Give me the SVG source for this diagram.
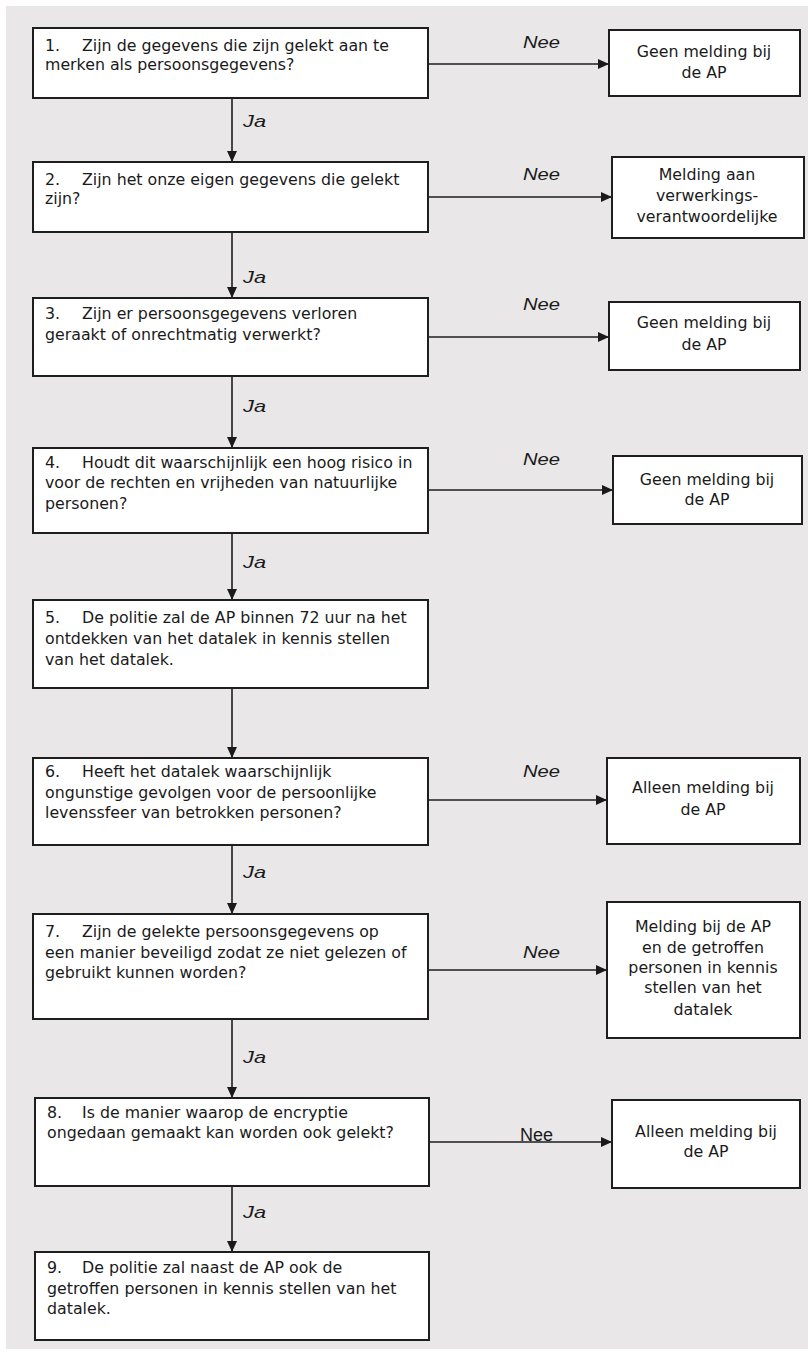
<svg xmlns="http://www.w3.org/2000/svg" width="808" height="1355" viewBox="0 0 808 1355">
  <defs>
    <marker id="arrow" markerUnits="userSpaceOnUse" markerWidth="12" markerHeight="10" refX="11" refY="5" orient="auto">
      <path d="M0,0 L11,5 L0,10 Z" fill="#1a1a1a"/>
    </marker>
    <style>
      .box { fill: #ffffff; stroke: #1e1e1e; stroke-width: 2; }
      .txt { font-family: "DejaVu Sans", "Liberation Sans", sans-serif; font-size: 15.8px; fill: #1a1a1a; }
      .ctr { text-anchor: middle; }
      .lbl { font-family: "Liberation Sans", "DejaVu Sans", sans-serif; font-style: italic; font-size: 17px; fill: #1a1a1a; }
      .lblup { font-family: "Liberation Sans", "DejaVu Sans", sans-serif; font-size: 18px; fill: #1a1a1a; }
      .link { stroke: #1e1e1e; stroke-width: 1.6; fill: none; marker-end: url(#arrow); }
    </style>
  </defs>

  <!-- page -->
  <rect x="0" y="0" width="808" height="1355" fill="#ffffff"/>
  <rect x="6" y="6" width="802" height="1343" fill="#e9e7e7"/>

  <!-- connectors -->
  <g id="connectors">
    <line class="link" x1="232" y1="98" x2="232" y2="162"/>
    <line class="link" x1="232" y1="232" x2="232" y2="298"/>
    <line class="link" x1="232" y1="376" x2="232" y2="448"/>
    <line class="link" x1="232" y1="533" x2="232" y2="600"/>
    <line class="link" x1="232" y1="688" x2="232" y2="758"/>
    <line class="link" x1="232" y1="845" x2="232" y2="914"/>
    <line class="link" x1="232" y1="1019" x2="232" y2="1098"/>
    <line class="link" x1="232" y1="1186" x2="232" y2="1252"/>

    <line class="link" x1="428" y1="64" x2="609" y2="64"/>
    <line class="link" x1="428" y1="197" x2="612" y2="197"/>
    <line class="link" x1="428" y1="337" x2="609" y2="337"/>
    <line class="link" x1="428" y1="490" x2="613" y2="490"/>
    <line class="link" x1="428" y1="800" x2="607" y2="800"/>
    <line class="link" x1="428" y1="970" x2="607" y2="970"/>
    <line class="link" x1="429" y1="1142" x2="612" y2="1142"/>

    <text class="lbl" x="243" y="127" textLength="23" lengthAdjust="spacingAndGlyphs">Ja</text>
    <text class="lbl" x="243" y="283" textLength="23" lengthAdjust="spacingAndGlyphs">Ja</text>
    <text class="lbl" x="243" y="412" textLength="23" lengthAdjust="spacingAndGlyphs">Ja</text>
    <text class="lbl" x="243" y="568" textLength="23" lengthAdjust="spacingAndGlyphs">Ja</text>
    <text class="lbl" x="243" y="878" textLength="23" lengthAdjust="spacingAndGlyphs">Ja</text>
    <text class="lbl" x="243" y="1063" textLength="23" lengthAdjust="spacingAndGlyphs">Ja</text>
    <text class="lbl" x="243" y="1218" textLength="23" lengthAdjust="spacingAndGlyphs">Ja</text>

    <text class="lbl" x="523" y="48" textLength="37" lengthAdjust="spacingAndGlyphs">Nee</text>
    <text class="lbl" x="523" y="180" textLength="37" lengthAdjust="spacingAndGlyphs">Nee</text>
    <text class="lbl" x="523" y="310" textLength="37" lengthAdjust="spacingAndGlyphs">Nee</text>
    <text class="lbl" x="523" y="465" textLength="37" lengthAdjust="spacingAndGlyphs">Nee</text>
    <text class="lbl" x="523" y="777" textLength="37" lengthAdjust="spacingAndGlyphs">Nee</text>
    <text class="lbl" x="523" y="958" textLength="37" lengthAdjust="spacingAndGlyphs">Nee</text>
    <text class="lblup" x="520" y="1141">Nee</text>
  </g>

  <!-- questions -->
  <g id="q1">
    <rect class="box" x="33" y="28" width="395" height="70"/>
    <text class="txt" y="51"><tspan x="45">1.</tspan><tspan x="82">Zijn de gegevens die zijn gelekt aan te</tspan></text>
    <text class="txt" x="45" y="70">merken als persoonsgegevens?</text>
  </g>
  <g id="q2">
    <rect class="box" x="33" y="162" width="395" height="70"/>
    <text class="txt" y="185"><tspan x="45">2.</tspan><tspan x="82">Zijn het onze eigen gegevens die gelekt</tspan></text>
    <text class="txt" x="45" y="204">zijn?</text>
  </g>
  <g id="q3">
    <rect class="box" x="33" y="298" width="395" height="78"/>
    <text class="txt" y="319"><tspan x="45">3.</tspan><tspan x="82">Zijn er persoonsgegevens verloren</tspan></text>
    <text class="txt" x="45" y="340">geraakt of onrechtmatig verwerkt?</text>
  </g>
  <g id="q4">
    <rect class="box" x="33" y="448" width="395" height="85"/>
    <text class="txt" y="468"><tspan x="45">4.</tspan><tspan x="82">Houdt dit waarschijnlijk een hoog risico in</tspan></text>
    <text class="txt" x="45" y="488">voor de rechten en vrijheden van natuurlijke</text>
    <text class="txt" x="45" y="509">personen?</text>
  </g>
  <g id="q5">
    <rect class="box" x="33" y="600" width="395" height="88"/>
    <text class="txt" y="623"><tspan x="45">5.</tspan><tspan x="82">De politie zal de AP binnen 72 uur na het</tspan></text>
    <text class="txt" x="45" y="644">ontdekken van het datalek in kennis stellen</text>
    <text class="txt" x="45" y="665">van het datalek.</text>
  </g>
  <g id="q6">
    <rect class="box" x="33" y="758" width="395" height="87"/>
    <text class="txt" y="777"><tspan x="45">6.</tspan><tspan x="82">Heeft het datalek waarschijnlijk</tspan></text>
    <text class="txt" x="45" y="798">ongunstige gevolgen voor de persoonlijke</text>
    <text class="txt" x="45" y="818">levenssfeer van betrokken personen?</text>
  </g>
  <g id="q7">
    <rect class="box" x="33" y="914" width="395" height="105"/>
    <text class="txt" y="937"><tspan x="45">7.</tspan><tspan x="82">Zijn de gelekte persoonsgegevens op</tspan></text>
    <text class="txt" x="45" y="958">een manier beveiligd zodat ze niet gelezen of</text>
    <text class="txt" x="45" y="978">gebruikt kunnen worden?</text>
  </g>
  <g id="q8">
    <rect class="box" x="35" y="1098" width="394" height="88"/>
    <text class="txt" y="1118"><tspan x="47">8.</tspan><tspan x="82">Is de manier waarop de encryptie</tspan></text>
    <text class="txt" x="47" y="1138">ongedaan gemaakt kan worden ook gelekt?</text>
  </g>
  <g id="q9">
    <rect class="box" x="35" y="1252" width="394" height="88"/>
    <text class="txt" y="1273"><tspan x="47">9.</tspan><tspan x="82">De politie zal naast de AP ook de</tspan></text>
    <text class="txt" x="47" y="1294">getroffen personen in kennis stellen van het</text>
    <text class="txt" x="47" y="1314">datalek.</text>
  </g>

  <!-- outcomes -->
  <g id="r1">
    <rect class="box" x="609" y="30" width="191" height="66"/>
    <text class="txt ctr" x="704" y="57">Geen melding bij</text>
    <text class="txt ctr" x="704" y="78">de AP</text>
  </g>
  <g id="r2">
    <rect class="box" x="612" y="157" width="192" height="81"/>
    <text class="txt ctr" x="707" y="180">Melding aan</text>
    <text class="txt ctr" x="707" y="201">verwerkings-</text>
    <text class="txt ctr" x="707" y="222">verantwoordelijke</text>
  </g>
  <g id="r3">
    <rect class="box" x="609" y="302" width="191" height="68"/>
    <text class="txt ctr" x="704" y="328">Geen melding bij</text>
    <text class="txt ctr" x="704" y="350">de AP</text>
  </g>
  <g id="r4">
    <rect class="box" x="613" y="456" width="189" height="68"/>
    <text class="txt ctr" x="707" y="485">Geen melding bij</text>
    <text class="txt ctr" x="707" y="505">de AP</text>
  </g>
  <g id="r6">
    <rect class="box" x="607" y="758" width="193" height="86"/>
    <text class="txt ctr" x="703" y="793">Alleen melding bij</text>
    <text class="txt ctr" x="703" y="815">de AP</text>
  </g>
  <g id="r7">
    <rect class="box" x="607" y="902" width="193" height="136"/>
    <text class="txt ctr" x="703" y="932">Melding bij de AP</text>
    <text class="txt ctr" x="703" y="953">en de getroffen</text>
    <text class="txt ctr" x="703" y="973">personen in kennis</text>
    <text class="txt ctr" x="703" y="993">stellen van het</text>
    <text class="txt ctr" x="703" y="1015">datalek</text>
  </g>
  <g id="r8">
    <rect class="box" x="612" y="1100" width="188" height="88"/>
    <text class="txt ctr" x="706" y="1137">Alleen melding bij</text>
    <text class="txt ctr" x="706" y="1157">de AP</text>
  </g>
</svg>
